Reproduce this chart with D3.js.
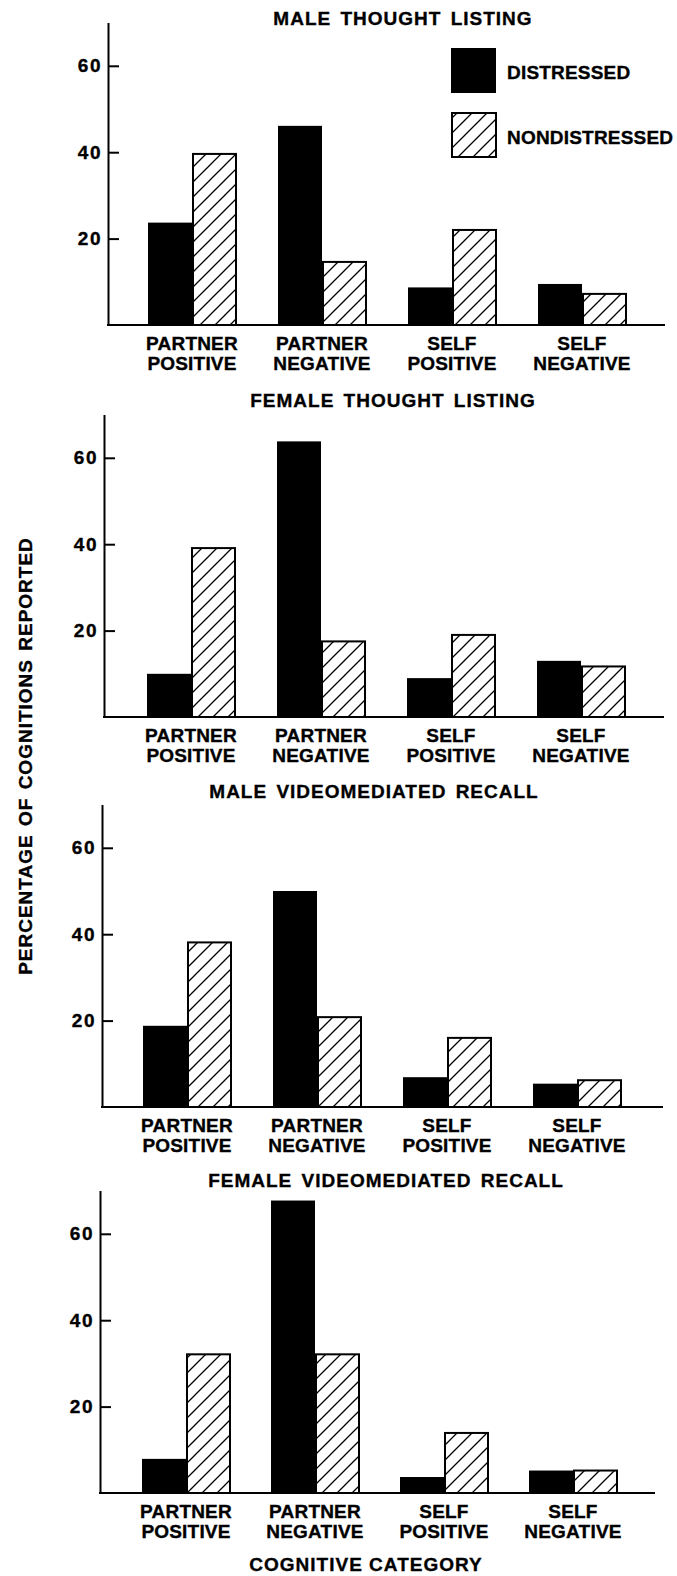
<!DOCTYPE html>
<html>
<head>
<meta charset="utf-8">
<script src="https://cdn.jsdelivr.net/npm/d3@7"></script>
<style>
  html, body { margin: 0; padding: 0; background: #fff; }
  svg { display: block; }
  text { font-family: "Liberation Sans", Arial, Helvetica, sans-serif; font-weight: bold; fill: #000; stroke: #000; stroke-width: 0.35px; }
</style>
</head>
<body>
<div id="chart"></div>
<script>
// ---- Data ----
const categories = ["PARTNER\nPOSITIVE", "PARTNER\nNEGATIVE", "SELF\nPOSITIVE", "SELF\nNEGATIVE"];
const seriesNames = ["DISTRESSED", "NONDISTRESSED"];
const panelTitles = ["MALE THOUGHT LISTING", "FEMALE THOUGHT LISTING", "MALE VIDEOMEDIATED RECALL", "FEMALE VIDEOMEDIATED RECALL"];
const yTicks = [20, 40, 60];

const maleThoughtDistressed      = [23.7, 46.1, 8.7, 9.5];
const maleThoughtNondistressed   = [39.6, 14.6, 22.0, 7.2];
const femaleThoughtDistressed    = [10.0, 63.8, 9.0, 13.0];
const femaleThoughtNondistressed = [39.1, 17.5, 19.0, 11.7];
const maleVideoDistressed        = [18.8, 50.0, 6.9, 5.4];
const maleVideoNondistressed     = [38.1, 20.8, 16.0, 6.2];
const femaleVideoDistressed      = [7.9, 67.7, 3.7, 5.2];
const femaleVideoNondistressed   = [32.1, 32.1, 13.9, 5.2];

const panelValues = [
  [maleThoughtDistressed, maleThoughtNondistressed],
  [femaleThoughtDistressed, femaleThoughtNondistressed],
  [maleVideoDistressed, maleVideoNondistressed],
  [femaleVideoDistressed, femaleVideoNondistressed]
];

// ---- Layout (positions only) ----
const W = 677, H = 1576;
const layout = [
  { axisX: 108, baseline: 325, firstBar: 148, step: 130, lineEnd: 665, titleX: 403, titleY: 25 },
  { axisX: 104, baseline: 717, firstBar: 147, step: 130, lineEnd: 664, titleX: 393, titleY: 407 },
  { axisX: 102, baseline: 1107, firstBar: 143, step: 130, lineEnd: 663, titleX: 374, titleY: 798 },
  { axisX: 100, baseline: 1493, firstBar: 142, step: 129, lineEnd: 655, titleX: 386, titleY: 1187 }
];
const pxPerUnit = 4.32;
const yMax = 70;
const barW = 44;

const svg = d3.select("#chart").append("svg").attr("width", W).attr("height", H);

const defs = svg.append("defs");
const pat = defs.append("pattern")
  .attr("id", "hatch").attr("patternUnits", "userSpaceOnUse")
  .attr("width", 15).attr("height", 15);
pat.append("rect").attr("width", 15).attr("height", 15).attr("fill", "#fff");
pat.append("path")
  .attr("d", "M0,15 L15,0 M-4,4 L4,-4 M11,19 L19,11")
  .attr("stroke", "#000").attr("stroke-width", 1.3);

const fontSize = "19px";

panelValues.forEach((vals, pi) => {
  const L = layout[pi];
  const g = svg.append("g");

  const y = d3.scaleLinear().domain([0, yMax]).range([L.baseline, L.baseline - yMax * pxPerUnit]);
  const pInner = (L.step - 2 * barW) / L.step;
  const x = d3.scaleBand().domain(categories)
    .range([L.firstBar - L.step * pInner / 2, L.firstBar - L.step * pInner / 2 + L.step * categories.length])
    .paddingInner(pInner).paddingOuter(pInner / 2);
  const xs = d3.scaleBand().domain(seriesNames).range([0, x.bandwidth()]).padding(0);

  // title
  g.append("text")
    .attr("x", L.titleX).attr("y", L.titleY)
    .attr("text-anchor", "middle")
    .style("font-size", fontSize).style("letter-spacing", "1px").style("word-spacing", "3px")
    .text(panelTitles[pi]);

  // bars
  categories.forEach((c, ci) => {
    seriesNames.forEach((s, si) => {
      const v = vals[si][ci];
      const x0 = x(c) + xs(s);
      g.append("rect")
        .attr("x", si === 0 ? x0 : x0 + 1)
        .attr("y", y(v))
        .attr("width", si === 0 ? xs.bandwidth() : xs.bandwidth() - 1)
        .attr("height", y(0) - y(v))
        .attr("fill", si === 0 ? "#000" : "url(#hatch)")
        .attr("stroke", "#000")
        .attr("stroke-width", si === 0 ? 0 : 2);
    });
  });

  // y axis
  const ax = g.append("g")
    .attr("transform", `translate(${L.axisX},0)`)
    .call(d3.axisLeft(y).tickValues(yTicks).tickSizeInner(-11).tickSizeOuter(0).tickPadding(6));
  ax.select(".domain").attr("stroke", "#000").attr("stroke-width", 2);
  ax.selectAll(".tick line").attr("stroke", "#000").attr("stroke-width", 2);
  ax.selectAll(".tick text")
    .style("font-family", "'Liberation Sans', Arial, sans-serif")
    .style("font-weight", "bold").style("font-size", fontSize).style("letter-spacing", "1.5px")
    .attr("fill", "#000");

  // baseline
  g.append("line")
    .attr("x1", L.axisX - 1).attr("x2", L.lineEnd)
    .attr("y1", y(0)).attr("y2", y(0))
    .attr("stroke", "#000").attr("stroke-width", 2.2);

  // category labels
  categories.forEach(c => {
    const cx = x(c) + x.bandwidth() / 2;
    c.split("\n").forEach((line, li) => {
      g.append("text")
        .attr("x", cx).attr("y", L.baseline + 25 + li * 20)
        .attr("text-anchor", "middle")
        .style("font-size", fontSize).style("letter-spacing", "0.2px")
        .text(line);
    });
  });
});

// legend
const legend = svg.append("g");
seriesNames.forEach((s, i) => {
  const ly = [48, 113][i];
  legend.append("rect")
    .attr("x", i === 0 ? 451 : 452).attr("y", ly)
    .attr("width", i === 0 ? 45 : 44).attr("height", i === 0 ? 45 : 44)
    .attr("fill", i === 0 ? "#000" : "url(#hatch)")
    .attr("stroke", "#000").attr("stroke-width", i === 0 ? 0 : 2);
  legend.append("text")
    .attr("x", 507).attr("y", ly + 24 + 7)
    .style("font-size", fontSize).style("letter-spacing", "0.2px")
    .text(s);
});

// axis titles
svg.append("text")
  .attr("transform", "translate(32,756) rotate(-90)")
  .attr("text-anchor", "middle")
  .style("font-size", fontSize).style("letter-spacing", "1px").style("word-spacing", "2px")
  .text("PERCENTAGE OF COGNITIONS REPORTED");

svg.append("text")
  .attr("x", 366).attr("y", 1571)
  .attr("text-anchor", "middle")
  .style("font-size", fontSize).style("letter-spacing", "1px")
  .text("COGNITIVE CATEGORY");
</script>
</body>
</html>
